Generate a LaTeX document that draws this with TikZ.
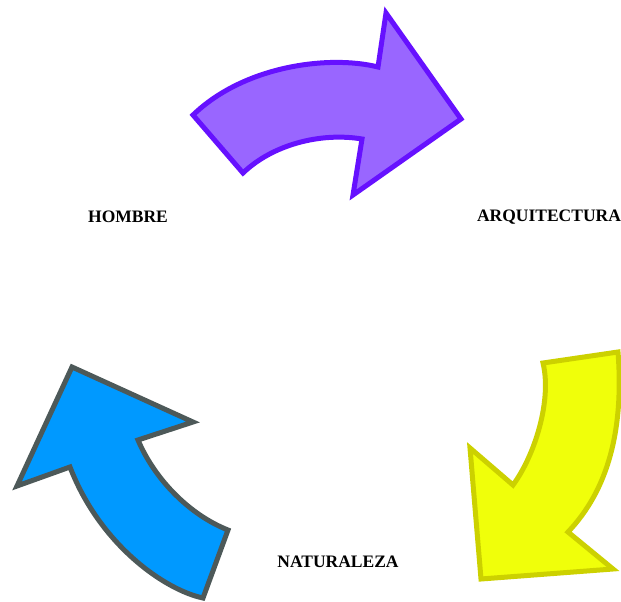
\documentclass[tikz,border=0pt]{standalone}
\usepackage{fontspec}
\setmainfont{Liberation Serif}
\definecolor{pfill}{HTML}{9966FF}
\definecolor{pline}{HTML}{6611FF}
\definecolor{yfill}{HTML}{F0FF0A}
\definecolor{yline}{HTML}{CCD100}
\definecolor{bfill}{HTML}{0099FF}
\definecolor{bline}{HTML}{4D5959}
\tikzset{
  arrowshape/.style={line width=5pt, line join=miter},
  lbl/.style={font=\fontsize{17.5}{20}\selectfont\bfseries, text=black, inner sep=0pt}
}
\begin{document}
\begin{tikzpicture}[x=1pt,y=-1pt]
\useasboundingbox (0,0) rectangle (621,602);
% purple arrow
\draw[arrowshape, fill=pfill, draw=pline]
  (193,115) -- (243,173) .. controls (272,145) and (320,132) .. (362,139)
  -- (353,195) -- (461,119) -- (386,13) -- (378,67)
  .. controls (330,55) and (245,65) .. (193,115) -- cycle;
% yellow arrow
\draw[arrowshape, fill=yfill, draw=yline]
  (543,363) -- (618,352) .. controls (624,430) and (608,490) .. (568,532)
  -- (613,569) -- (481,579) -- (470,448) -- (513,485)
  .. controls (535,455) and (552,400) .. (543,363) -- cycle;
% blue arrow
\draw[arrowshape, fill=bfill, draw=bline]
  (72,367) -- (193,422) -- (138,440) .. controls (155,480) and (190,515) .. (228,530)
  -- (203,598) .. controls (165,590) and (100,545) .. (70,467)
  -- (17,486) -- cycle;
\node[lbl] (hombre) at (128,217) {HOMBRE};
\node[lbl] (arq) at (549,217) {ARQUITECTURA};
\node[lbl] (nat) at (338,562) {NATURALEZA};
\end{tikzpicture}
\end{document}
